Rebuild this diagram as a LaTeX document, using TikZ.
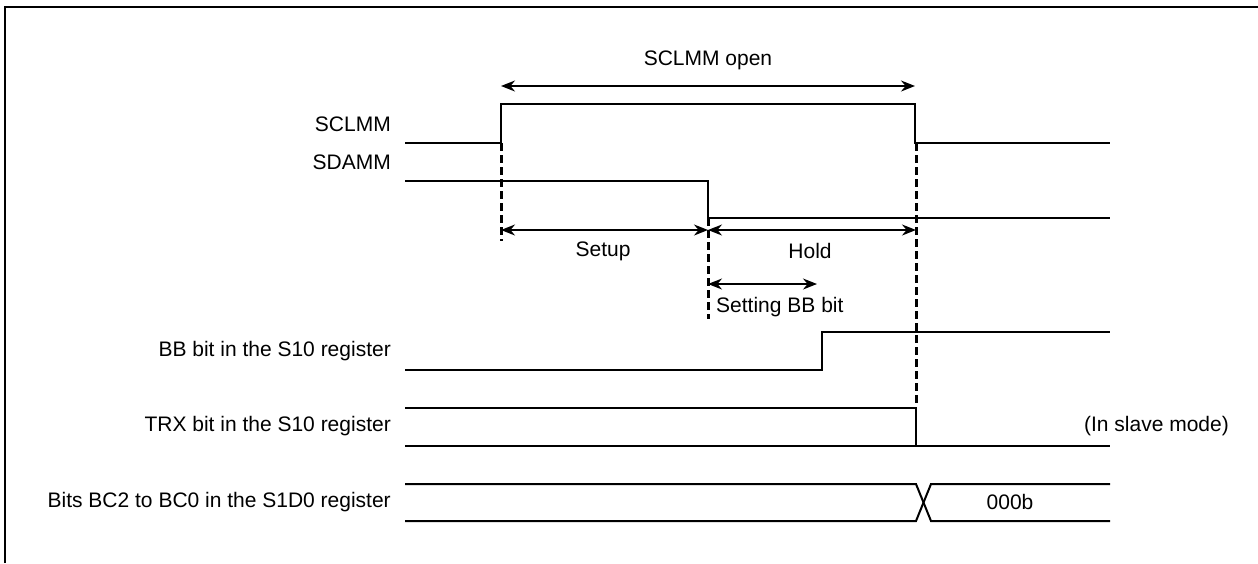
\documentclass[tikz,border=0pt]{standalone}
\usepackage{fontspec}
\setmainfont{Liberation Sans}
\usetikzlibrary{arrows.meta}
\begin{document}
\begin{tikzpicture}[x=1pt,y=-1pt,
  sig/.style={line width=2pt,line join=miter},
  guide/.style={line width=3pt,dash pattern=on 8pt off 4pt},
  dim/.style={line width=1.6pt,{Stealth[length=14pt,width=11pt]}-{Stealth[length=14pt,width=11pt]}},
  lbl/.style={font=\fontsize{21}{25}\selectfont,inner sep=0pt},
  rlbl/.style={lbl,anchor=east}]
\useasboundingbox (0,0) rectangle (1258,563);
\draw[line width=2pt] (5,563) -- (5,7) -- (1258,7);
% labels
\node[rlbl] (lsclmm) at (391,124) {SCLMM};
\node[rlbl] (lsdamm) at (391,162) {SDAMM};
\node[rlbl] (lbb) at (391,351) {BB bit in the S10 register};
\node[rlbl] (ltrx) at (391,426) {TRX bit in the S10 register};
\node[rlbl] (lbc) at (391,502) {Bits BC2 to BC0 in the S1D0 register};
\node[lbl,anchor=east] (lslave) at (1229,426) {(In slave mode)};
\node[lbl] (lopen) at (708,60) {SCLMM open};
\node[lbl] (lsetup) at (603,251) {Setup};
\node[lbl] (lhold) at (810,251) {Hold};
\node[lbl,anchor=west] (lset) at (716,307) {Setting BB bit};
\node[lbl] (l000) at (1010,502) {000b};
% waveforms
\draw[sig] (405,143) -- (501,143) -- (501,104) -- (915,104) -- (915,143) -- (1110,143);
\draw[sig] (405,181) -- (708,181) -- (708,218) -- (1110,218);
\draw[sig] (405,370) -- (822,370) -- (822,332) -- (1110,332);
\draw[sig] (405,408) -- (916,408) -- (916,446);
\draw[sig] (405,446) -- (1110,446);
\draw[sig] (405,484) -- (916,484) -- (931,521) -- (1110,521);
\draw[sig] (405,521) -- (916,521) -- (931,484) -- (1110,484);
% guides
\draw[guide] (501,143) -- (501,241);
\draw[guide] (708,218) -- (708,319);
\draw[guide] (916,143) -- (916,404);
% dimension arrows
\coordinate (o1) at (501,86); \coordinate (o2) at (915,86);
\coordinate (s1) at (501,230); \coordinate (s2) at (708,230); \coordinate (s3) at (916,230);
\coordinate (b1) at (708,284); \coordinate (b2) at (817,284);
\draw[dim] (o1) -- (o2);
\draw[dim] (s1) -- (s2);
\draw[dim] (s2) -- (s3);
\draw[dim] (b1) -- (b2);
\end{tikzpicture}
\end{document}
